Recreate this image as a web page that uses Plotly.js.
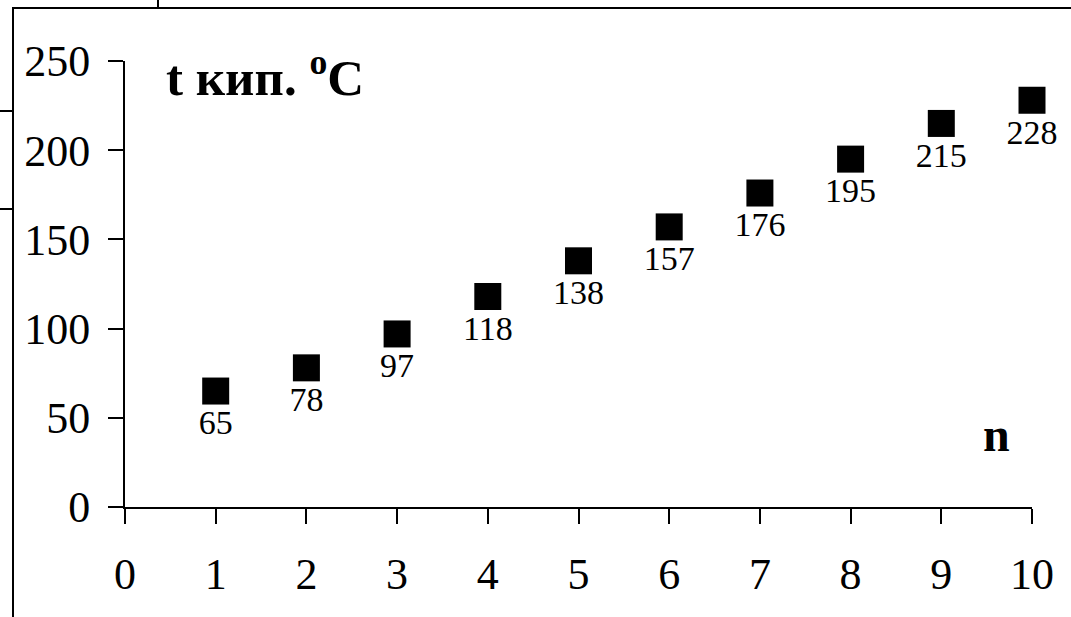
<!DOCTYPE html>
<html>
<head>
<meta charset="utf-8">
<script src="https://cdn.plot.ly/plotly-3.0.1.min.js"></script>
<style>
  html, body { margin: 0; padding: 0; background: #fff; }
  #wrap { position: relative; width: 1071px; height: 617px; overflow: hidden; }
  #chart { position: absolute; left: 0; top: 0; width: 1071px; height: 617px; }
  .ln { position: absolute; background: #000; pointer-events: none; }
</style>
</head>
<body>
<div id="wrap">
  <div id="chart"></div>
  <div class="ln" style="left:13px; top:7px; width:1058px; height:2px;"></div>
  <div class="ln" style="left:12px; top:7px; width:2px; height:610px;"></div>
  <div class="ln" style="left:157px; top:0px; width:2px; height:8px;"></div>
  <div class="ln" style="left:0px; top:110px; width:13px; height:2px;"></div>
  <div class="ln" style="left:0px; top:208px; width:13px; height:2px;"></div>
</div>
<script>
const nValues = [1, 2, 3, 4, 5, 6, 7, 8, 9, 10];
const boilingPoints = [65, 78, 97, 118, 138, 157, 176, 195, 215, 228];
const xTicks = [0, 1, 2, 3, 4, 5, 6, 7, 8, 9, 10];
const yTicks = [0, 50, 100, 150, 200, 250];
const yTitle = 't кип. <sup>o</sup>C';
const xTitle = 'n';

const font = 'Liberation Serif, Times New Roman, serif';

const trace = {
  x: nValues,
  y: boilingPoints,
  type: 'scatter',
  mode: 'markers+text',
  marker: { symbol: 'square', size: 27, color: '#000' },
  text: boilingPoints.map(String),
  textposition: 'bottom center',
  textfont: { family: font, size: 34, color: '#000' },
  cliponaxis: false,
  hoverinfo: 'skip'
};

const layout = {
  width: 1071,
  height: 617,
  margin: { l: 125, r: 39, t: 61, b: 110 },
  paper_bgcolor: '#fff',
  plot_bgcolor: '#fff',
  showlegend: false,
  font: { family: font, color: '#000' },
  xaxis: {
    range: [0, 10],
    tickvals: xTicks,
    ticktext: xTicks.map(String),
    showgrid: false,
    zeroline: false,
    showline: true,
    linecolor: '#000',
    linewidth: 2,
    ticks: 'outside',
    ticklen: 15,
    tickwidth: 2,
    tickcolor: '#000',
    tickfont: { family: font, size: 44, color: '#000' },
    ticklabelstandoff: 12
  },
  yaxis: {
    range: [0, 250],
    tickvals: yTicks,
    ticktext: yTicks.map(String),
    showgrid: false,
    zeroline: false,
    showline: true,
    linecolor: '#000',
    linewidth: 2,
    ticks: 'outside',
    ticklen: 15,
    tickwidth: 2,
    tickcolor: '#000',
    tickfont: { family: font, size: 44, color: '#000' },
    ticklabelstandoff: 9
  },
  annotations: [
    {
      text: '<b>' + yTitle + '</b>',
      xref: 'paper', yref: 'paper',
      x: 0.043, y: 0.97,
      xanchor: 'left', yanchor: 'middle',
      showarrow: false,
      font: { family: font, size: 51, color: '#000' }
    },
    {
      text: '<b>' + xTitle + '</b>',
      xref: 'paper', yref: 'paper',
      x: 0.961, y: 0.162,
      xanchor: 'center', yanchor: 'middle',
      showarrow: false,
      font: { family: font, size: 48, color: '#000' }
    }
  ]
};

Plotly.newPlot('chart', [trace], layout, { staticPlot: true, displayModeBar: false });
</script>
</body>
</html>
